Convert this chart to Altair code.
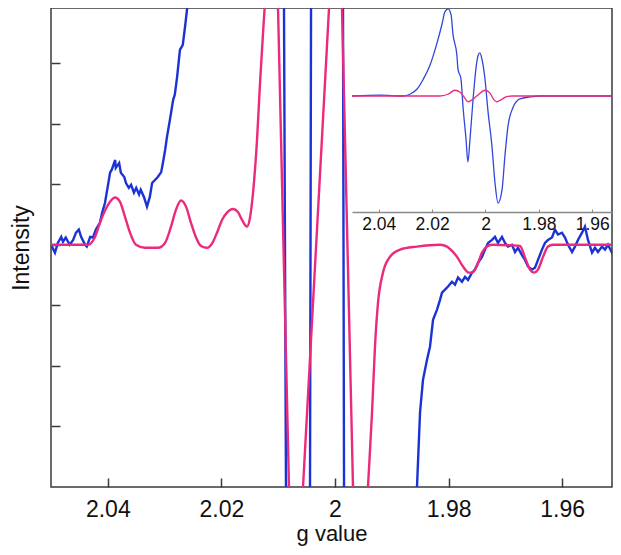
import altair as alt
import pandas as pd

# ---------------- data ----------------
# main panel: experimental spectrum (blue)
blue_g = [2.0500, 2.0493, 2.0488, 2.0482, 2.0479, 2.0474, 2.0467, 2.0461, 2.0456, 2.0451,
          2.0447, 2.0440, 2.0437, 2.0431, 2.0426, 2.0421, 2.0414, 2.0410, 2.0405, 2.0401,
          2.0396, 2.0393, 2.0387, 2.0386, 2.0380, 2.0377, 2.0371, 2.0368, 2.0363, 2.0359,
          2.0354, 2.0350, 2.0345, 2.0342, 2.0336, 2.0331, 2.0326, 2.0322, 2.0317, 2.0312,
          2.0306, 2.0303, 2.0299, 2.0296, 2.0290, 2.0285, 2.0282, 2.0278, 2.0273, 2.0268,
          2.0264, 2.0259,
          2.0208, 2.0140, 2.0107, 2.00898, 2.00863, 2.0066, 2.00440, 2.00422, 2.0021,
          1.99859, 1.99841, 1.9953,
          1.98556, 1.98503, 1.98451, 1.98380, 1.98327, 1.98274, 1.98204, 1.98151, 1.98116, 1.98063,
          1.98010, 1.97940, 1.97887, 1.97834, 1.97764, 1.97711, 1.97658, 1.97588, 1.97535, 1.97482,
          1.97412, 1.97359, 1.97306, 1.97236, 1.97183, 1.97130, 1.97060, 1.97007, 1.96954, 1.96884,
          1.96831, 1.96778, 1.96708, 1.96655, 1.96602, 1.96532, 1.96479, 1.96426, 1.96356, 1.96303,
          1.96250, 1.96180, 1.96127, 1.96074, 1.96004, 1.95951, 1.95898, 1.95827, 1.95775, 1.95722,
          1.95651, 1.95599, 1.95546, 1.95475, 1.95423, 1.95370, 1.95299, 1.95246, 1.95194, 1.95123,
          1.95070, 1.95000]
blue_int = [0.00, -0.13, 0.03, 0.13, 0.05, 0.12, 0.00, 0.08, 0.20, 0.25,
            0.13, 0.00, -0.03, 0.13, 0.12, 0.25, 0.36, 0.53, 0.69, 0.91,
            1.19, 1.24, 1.40, 1.27, 1.35, 1.19, 1.12, 1.02, 0.94, 0.99,
            0.86, 0.94, 0.83, 0.91, 0.78, 0.63, 0.79, 1.02, 1.07, 1.12,
            1.20, 1.35, 1.57, 1.77, 2.10, 2.39, 2.48, 2.77, 3.22, 3.30,
            3.60, 4.01,
            18.0, 52.0, 24.0, 3.91, -4.0, -40.0, -4.0, 3.91, 26.0,
            3.91, -4.0, -64.0,
            -3.99, -2.77, -2.23, -1.90, -1.68, -1.24, -1.07, -0.91, -0.79, -0.74,
            -0.69, -0.61, -0.66, -0.54, -0.61, -0.53, -0.58, -0.46, -0.41, -0.30,
            -0.20, -0.08, 0.03, 0.08, 0.13, 0.03, 0.13, 0.03, -0.03, 0.00,
            -0.12, -0.05, -0.17, -0.25, -0.36, -0.41, -0.38, -0.25, -0.08, 0.03,
            0.08, 0.12, 0.25, 0.17, 0.20, 0.12, 0.00, -0.12, -0.03, 0.08,
            0.20, 0.30, 0.08, -0.13, -0.05, -0.12, -0.03, -0.08, 0.00, -0.13,
            -0.08, -0.12]

# main panel: simulated spectrum (pink)
pink_g = [2.0500, 2.04349, 2.04225, 2.04120, 2.03996, 2.03873, 2.03785, 2.03697, 2.03609, 2.03504,
          2.03345, 2.03116, 2.02993, 2.02887, 2.02799, 2.02711, 2.02623, 2.02535, 2.02447, 2.02359,
          2.02254, 2.02165, 2.02077, 2.01989, 2.01901, 2.01796, 2.01708, 2.01637, 2.01549, 2.01496,
          2.01444, 2.01373, 2.01320, 2.01267, 2.01232,
          2.01065, 2.01003, 2.00810, 2.00739, 2.00563, 2.00105, 1.99947, 1.99877, 1.99683, 1.99604,
          1.99419,
          1.99348, 1.99296, 1.99243, 1.99155, 1.99032, 1.98856, 1.98556, 1.98151, 1.98028, 1.97940,
          1.97852, 1.97746, 1.97641, 1.97570, 1.97482, 1.97412, 1.97324, 1.97236, 1.96743, 1.96655,
          1.96567, 1.96496, 1.96426, 1.96338, 1.96250, 1.96162, 1.95000]
pink_int = [0.00, 0.00, 0.13, 0.41, 0.66, 0.78, 0.71, 0.46, 0.20, 0.00,
            -0.05, -0.05, 0.03, 0.30, 0.58, 0.73, 0.63, 0.36, 0.12, -0.02,
            -0.05, 0.02, 0.20, 0.41, 0.53, 0.59, 0.54, 0.41, 0.30, 0.45,
            0.85, 1.73, 2.67, 3.50, 4.01,
            6.5, 3.91, -4.0, -7.0, -4.0, 3.91, 6.69, 3.91, -4.0, -7.2,
            -3.99,
            -2.77, -1.68, -0.96, -0.46, -0.20, -0.08, -0.03, 0.00, -0.03, -0.10,
            -0.20, -0.36, -0.46, -0.45, -0.30, -0.13, -0.03, 0.00, -0.02, -0.21,
            -0.41, -0.46, -0.41, -0.20, -0.03, 0.00, 0.00]

# inset: full spectrum
inset_blue_g = [2.0500, 2.0395, 2.0309, 2.0283, 2.0257, 2.0234, 2.0208, 2.0182, 2.0163, 2.0152,
                2.0140, 2.0129, 2.0122, 2.0107, 2.0103, 2.0092, 2.0084, 2.0073, 2.0066, 2.0058,
                2.0047, 2.0036, 2.0028, 2.0021, 2.0013, 2.0002, 1.9991, 1.9976, 1.9964, 1.9953,
                1.9938, 1.9927, 1.9916, 1.9897, 1.9871, 1.9833, 1.9796, 1.9500]
inset_blue_v = [0.0, 0.01, 0.0, 0.02, 0.077, 0.187, 0.352, 0.604, 0.824, 0.967,
                1.0, 0.934, 0.714, 0.462, 0.308, 0.198, -0.132, -0.495, -0.758, -0.495,
                -0.055, 0.308, 0.462, 0.495, 0.418, 0.198, -0.165, -0.571, -1.011, -1.231,
                -1.077, -0.681, -0.352, -0.132, -0.033, -0.011, 0.0, 0.0]
inset_pink_g = [2.0500, 2.01704, 2.01404, 2.01142, 2.00955, 2.00805, 2.00655, 2.00506, 2.00281,
                2.00019, 1.99831, 1.99682, 1.99569, 1.99419, 1.99232, 1.99007, 1.9500]
inset_pink_v = [0.0, 0.0, 0.02, 0.066, 0.044, -0.011, -0.066, -0.044, 0.011,
                0.066, 0.033, -0.044, -0.066, -0.044, -0.011, 0.0, 0.0]

x_ticks = [2.04, 2.02, 2.0, 1.98, 1.96]
y_ticks = [-3, -2, -1, 0, 1, 2, 3]

# ---------------- layout / style ----------------
# the page is only 605 px wide inside its margins, so the right end of the
# g axis is cut a few pixels early while keeping the reference's scale
W, H = 561, 479
X_DOMAIN = [2.05, 1.951232]
Y_DOMAIN = [-4.0, 3.91]
INSET_X_RANGE = [301, 561]
INSET_X_DOMAIN = [2.05, 1.95262]
INSET_Y_RANGE = [204, 0]
INSET_Y_DOMAIN = [-1.333, 1.011]
INSET_AXIS_OFFSET = 204

BLUE = "#1b33d4"
BLUE_INSET = "#3047d8"
PINK = "#ec2a7c"
FRAME = "#3a3a3a"
INSET_AXIS = "#8a8a8a"
FONT = "Liberation Sans"


def frame(g, v):
    return pd.DataFrame({"g": g, "v": v, "i": list(range(len(g)))})


def xs():
    return alt.Scale(domain=X_DOMAIN, nice=False, zero=False)


def ys():
    return alt.Scale(domain=Y_DOMAIN, nice=False, zero=False)


def ixs():
    return alt.Scale(domain=INSET_X_DOMAIN, range=INSET_X_RANGE, nice=False, zero=False)


def iys():
    return alt.Scale(domain=INSET_Y_DOMAIN, range=INSET_Y_RANGE, nice=False, zero=False)


main_blue = alt.Chart(frame(blue_g, blue_int)).mark_line(
    color=BLUE, strokeWidth=2.4, clip=True
).encode(
    x=alt.X("g:Q", scale=xs(), axis=alt.Axis(
        orient="bottom", values=x_ticks, format="~g", ticks=False, domain=False, grid=False,
        labelFontSize=23, labelPadding=11, labelColor="#111",
        title="g value", titleFontSize=22, titleFontWeight="normal", titleColor="#111",
        titlePadding=2)),
    y=alt.Y("v:Q", scale=ys(), axis=alt.Axis(
        orient="left", values=y_ticks, labels=False, ticks=False, domain=False, grid=False,
        title="Intensity", titleFontSize=23, titleFontWeight="normal", titleColor="#111",
        titlePadding=18)),
    order="i:Q",
)

main_pink = alt.Chart(frame(pink_g, pink_int)).mark_line(
    color=PINK, strokeWidth=2.4, clip=True, interpolate="monotone"
).encode(
    x=alt.X("g:Q", scale=xs(), axis=alt.Axis(
        orient="top", offset=-H, values=x_ticks, labels=False, domain=False, grid=False,
        ticks=True, tickSize=9, tickWidth=1.5, tickColor=FRAME, title=None)),
    y=alt.Y("v:Q", scale=ys(), axis=alt.Axis(
        orient="right", offset=-W, values=y_ticks, labels=False, domain=False, grid=False,
        ticks=True, tickSize=9, tickWidth=1.5, tickColor=FRAME, title=None)),
    order="i:Q",
)

inset_blue = alt.Chart(frame(inset_blue_g, inset_blue_v)).mark_line(
    color=BLUE_INSET, strokeWidth=1.3, interpolate="monotone", clip=True
).encode(
    x=alt.X("g:Q", scale=ixs(), axis=alt.Axis(
        orient="bottom", offset=-(H - INSET_AXIS_OFFSET), values=x_ticks, format="~g",
        ticks=False, domain=True, domainColor=INSET_AXIS, domainWidth=1.5, grid=False,
        labelFontSize=17.5, labelPadding=3, labelColor="#111", title=None)),
    y=alt.Y("v:Q", scale=iys(), axis=None),
    order="i:Q",
)

inset_pink = alt.Chart(frame(inset_pink_g, inset_pink_v)).mark_line(
    color=PINK, strokeWidth=1.3, interpolate="monotone", clip=True
).encode(
    x=alt.X("g:Q", scale=ixs(), axis=alt.Axis(
        orient="top", offset=-INSET_AXIS_OFFSET, values=x_ticks, labels=False, domain=False,
        grid=False, ticks=True, tickSize=3, tickWidth=1, tickColor=INSET_AXIS, title=None)),
    y=alt.Y("v:Q", scale=iys(), axis=None),
    order="i:Q",
)

chart = alt.layer(main_blue, main_pink, inset_blue, inset_pink).resolve_scale(
    x="independent", y="independent"
).properties(
    width=W, height=H,
    autosize=alt.AutoSizeParams(type="none"),
    padding={"left": 43, "top": 0, "right": 1, "bottom": 60},
).configure_view(
    stroke=FRAME, strokeWidth=1.5
).configure_axis(
    labelFont=FONT, titleFont=FONT
)

chart.save("out.html", embed_options={"renderer": "svg", "actions": False})
